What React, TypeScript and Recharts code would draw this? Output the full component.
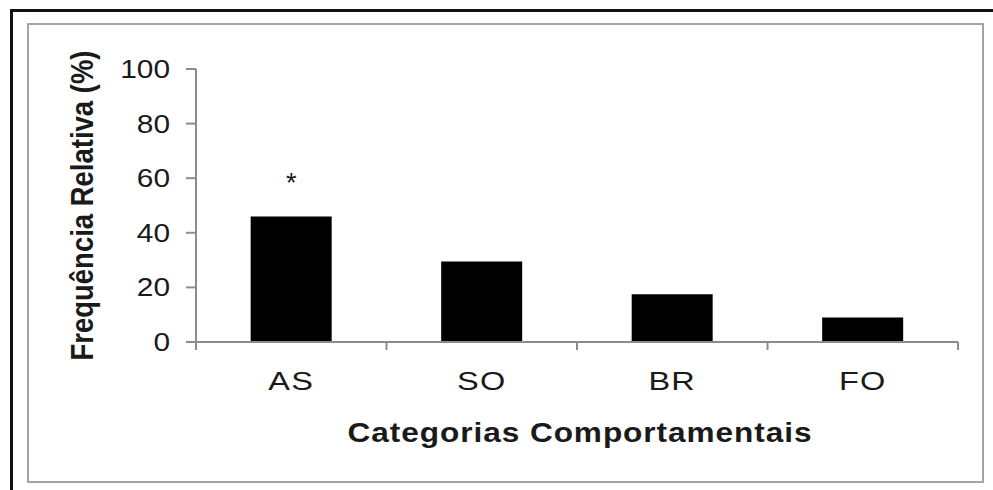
import React from 'react';
import { BarChart, Bar, XAxis, YAxis, LabelList, Label } from 'recharts';

// Relative frequency (%) per behavioural category
const categories = ['AS', 'SO', 'BR', 'FO'];
const frequencies = [46, 29.5, 17.5, 9];
const marks = ['*', '', '', ''];
const yTicks = [0, 20, 40, 60, 80, 100];

const rows = categories.map((name, i) => ({ name, value: frequencies[i], mark: marks[i] }));

const FONT = '"Liberation Sans", Arial, Helvetica, sans-serif';
const INK = '#1a1a1a';
const AXIS = '#8c8c8c';
const STRETCH = 1.17; // text is drawn slightly wide

// chart geometry
const W = 993;
const H = 490;
const MARGIN = { top: 69, right: 35, left: 0, bottom: 0 };
const Y_AXIS_W = 196;
const X_AXIS_H = 148;
const BAND = (W - MARGIN.left - MARGIN.right - Y_AXIS_W) / categories.length;

function YTick({ x, y, payload }: any) {
  return (
    <g transform={`translate(${x},${y}) scale(${STRETCH},1)`}>
      <text x={0} y={0} dy="0.355em" textAnchor="end" fontSize={25.5} fill={INK} fontFamily={FONT}>
        {payload.value}
      </text>
    </g>
  );
}

// category label at the band centre, tick marks on the band edges
function CategoryTick({ x, y, payload, index }: any) {
  const left = x - BAND / 2;
  const right = x + BAND / 2;
  const last = index === categories.length - 1;
  return (
    <g>
      <line x1={left} x2={left} y1={y - 8} y2={y} stroke={AXIS} strokeWidth={2} />
      {last && <line x1={right} x2={right} y1={y - 8} y2={y} stroke={AXIS} strokeWidth={2} />}
      <g transform={`translate(${x},${y + 40}) scale(1.25,1)`}>
        <text x={0} y={0} textAnchor="middle" fontSize={26} letterSpacing={1} fill={INK} fontFamily={FONT}>
          {payload.value}
        </text>
      </g>
    </g>
  );
}

function YTitle({ viewBox }: any) {
  const cx = viewBox.x + 93;
  const cy = viewBox.y + viewBox.height / 2;
  return (
    <g transform={`translate(${cx},${cy}) scale(${STRETCH},1) rotate(-90)`}>
      <text x={0} y={0} textAnchor="middle" fontSize={27.5} fontWeight={700} fill={INK} fontFamily={FONT}>
        Frequência Relativa (%)
      </text>
    </g>
  );
}

function XTitle({ viewBox }: any) {
  const cx = viewBox.x + viewBox.width / 2 + 3;
  const by = viewBox.y + 100;
  return (
    <g transform={`translate(${cx},${by}) scale(${STRETCH},1)`}>
      <text x={0} y={0} textAnchor="middle" fontSize={27} fontWeight={700} letterSpacing={0.8} fill={INK} fontFamily={FONT}>
        Categorias Comportamentais
      </text>
    </g>
  );
}

// significance asterisk above the bar
function MarkLabel({ x, y, width, value }: any) {
  if (!value) return null;
  return (
    <text x={x + width / 2} y={y - 24} textAnchor="middle" fontSize={27} fill={INK} fontFamily={FONT}>
      {value}
    </text>
  );
}

export default function App() {
  return (
    <div style={{ position: 'absolute', left: 0, top: 0, width: W, height: H, overflow: 'hidden', background: '#fff' }}>
      {/* outer page frame, only top/left edges fall inside the view */}
      <div
        style={{
          position: 'absolute',
          left: 10,
          top: 9,
          width: 1200,
          height: 700,
          borderTop: '3px solid #111',
          borderLeft: '3px solid #111',
        }}
      />
      {/* chart area border */}
      <div
        style={{
          position: 'absolute',
          left: 27,
          top: 23,
          width: 957,
          height: 460,
          boxSizing: 'border-box',
          border: '2px solid #a4a4a4',
        }}
      />
      <div style={{ position: 'absolute', left: 0, top: 0 }}>
        <BarChart width={W} height={H} data={rows} margin={MARGIN} barCategoryGap="28.7%">
          <XAxis
            dataKey="name"
            interval={0}
            height={X_AXIS_H}
            tickSize={8}
            tickMargin={0}
            tickLine={false}
            axisLine={{ stroke: AXIS, strokeWidth: 2 }}
            tick={<CategoryTick />}
          >
            <Label content={<XTitle />} />
          </XAxis>
          <YAxis
            width={Y_AXIS_W}
            domain={[0, 100]}
            ticks={yTicks}
            interval={0}
            tickSize={10}
            tickMargin={16}
            axisLine={{ stroke: AXIS, strokeWidth: 2 }}
            tickLine={{ stroke: AXIS, strokeWidth: 2 }}
            tick={<YTick />}
          >
            <Label content={<YTitle />} />
          </YAxis>
          <Bar dataKey="value" fill="#000" isAnimationActive={false}>
            <LabelList dataKey="mark" content={<MarkLabel />} />
          </Bar>
        </BarChart>
      </div>
    </div>
  );
}
